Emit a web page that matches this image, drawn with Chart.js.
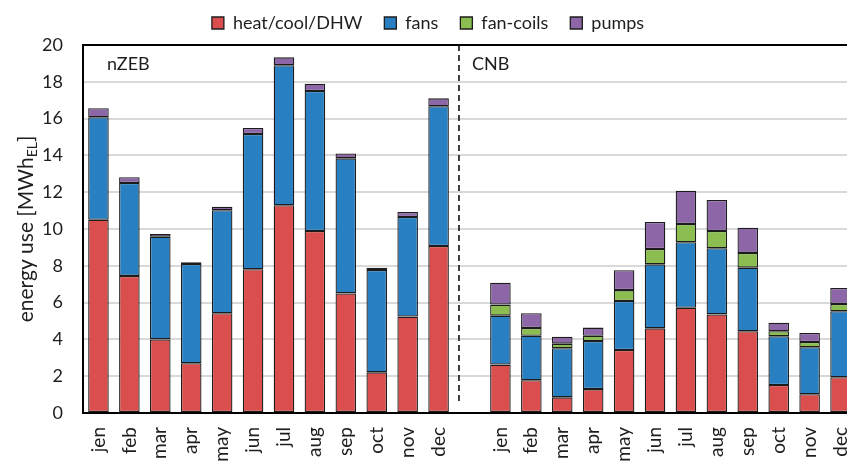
<!DOCTYPE html>
<html>
<head>
<meta charset="utf-8">
<script src="https://cdn.jsdelivr.net/npm/chart.js@4"></script>
<style>
  html, body { margin: 0; padding: 0; background: #fff; overflow: hidden; }
  #wrap { position: absolute; left: 0; top: 0; width: 856px; height: 462px; }
</style>
</head>
<body>
<div id="wrap"><canvas id="energyChart" width="856" height="462"></canvas></div>
<script>
// months for each building, with an empty slot between nZEB and CNB
const months = ['jen', 'feb', 'mar', 'apr', 'may', 'jun', 'jul', 'aug', 'sep', 'oct', 'nov', 'dec'];
const categories = [...months, '', ...months];

// nZEB values [MWh_EL]
const nzebHeat = [10.5, 7.45, 4.0, 2.7, 5.42, 7.81, 11.29, 9.89, 6.5, 2.21, 5.24, 9.08];
const nzebFans = [5.57, 5.05, 5.58, 5.4, 5.6, 7.35, 7.61, 7.61, 7.34, 5.56, 5.41, 7.59];
const nzebFanCoils = [0, 0, 0, 0, 0, 0, 0, 0, 0, 0, 0, 0];
const nzebPumps = [0.49, 0.31, 0.15, 0.09, 0.19, 0.33, 0.43, 0.4, 0.27, 0.13, 0.27, 0.43];

// CNB values [MWh_EL]
const cnbHeat = [2.63, 1.78, 0.85, 1.3, 3.42, 4.6, 5.72, 5.36, 4.44, 1.52, 1.02, 1.94];
const cnbFans = [2.66, 2.42, 2.67, 2.61, 2.67, 3.48, 3.56, 3.59, 3.46, 2.65, 2.55, 3.59];
const cnbFanCoils = [0.6, 0.42, 0.25, 0.29, 0.59, 0.83, 0.99, 0.94, 0.8, 0.27, 0.29, 0.39];
const cnbPumps = [1.19, 0.8, 0.38, 0.44, 1.08, 1.47, 1.81, 1.69, 1.37, 0.47, 0.49, 0.87];

const yTicks = [0, 2, 4, 6, 8, 10, 12, 14, 16, 18, 20];

const join = (a, b) => [...a, null, ...b];
const FONT = 'Lato, "Open Sans", sans-serif';
const TEXT = '#1e1e1e';

function ds(label, data, color) {
    return {
        label: label,
        data: data,
        backgroundColor: color,
        borderColor: '#1c1c1c',
        borderWidth: 1.3,
        borderSkipped: false,
        categoryPercentage: 1,
        barPercentage: 0.665
    };
}

// extra drawing: y-axis title with subscript, building labels, dashed divider
const extras = {
    id: 'extras',
    beforeLayout(chart) {
        // fixed legend strip height so the plot starts where the reference does
        const lg = chart.legend;
        if (lg && !lg._fixed) {
            const fit = lg.fit;
            lg.fit = function () { fit.call(this); this.height = 53; };
            lg._fixed = true;
        }
    },
    afterDraw(chart) {
        const ctx = chart.ctx;
        const area = chart.chartArea;
        const x = chart.scales.x;
        const y = chart.scales.y;
        ctx.save();

        // dashed separator between the two buildings
        const p11 = x.getPixelForValue(11);
        const p12 = x.getPixelForValue(12);
        const sepX = p11 + 0.66 * (p12 - p11);
        ctx.strokeStyle = '#111';
        ctx.lineWidth = 1.6;
        ctx.setLineDash([6, 4]);
        ctx.beginPath();
        ctx.moveTo(sepX, area.top);
        ctx.lineTo(sepX, y.getPixelForValue(0.6));
        ctx.stroke();
        ctx.setLineDash([]);

        // building names
        ctx.fillStyle = TEXT;
        ctx.font = '18px ' + FONT;
        ctx.textBaseline = 'middle';
        ctx.textAlign = 'left';
        ctx.fillText('nZEB', area.left + 24, area.top + 19);
        ctx.fillText('CNB', sepX + 13, area.top + 19);

        // y-axis title: energy use [MWh_EL]
        const main1 = 'energy use [MWh';
        const sub = 'EL';
        const main2 = ']';
        ctx.translate(33, (area.top + area.bottom) / 2);
        ctx.rotate(-Math.PI / 2);
        ctx.textBaseline = 'alphabetic';
        ctx.font = '21px ' + FONT;
        const w1 = ctx.measureText(main1).width;
        const w3 = ctx.measureText(main2).width;
        ctx.font = '14px ' + FONT;
        const w2 = ctx.measureText(sub).width;
        let cx = -(w1 + w2 + w3) / 2;
        ctx.font = '21px ' + FONT;
        ctx.fillText(main1, cx, 0);
        cx += w1;
        ctx.font = '14px ' + FONT;
        ctx.fillText(sub, cx, 4);
        cx += w2;
        ctx.font = '21px ' + FONT;
        ctx.fillText(main2, cx, 0);
        ctx.restore();
    }
};

const ctx = document.getElementById('energyChart').getContext('2d');
new Chart(ctx, {
    type: 'bar',
    data: {
        labels: categories,
        datasets: [
            ds('heat/cool/DHW', join(nzebHeat, cnbHeat), '#DA4F4D'),
            ds('fans', join(nzebFans, cnbFans), '#2880C3'),
            ds('fan-coils', join(nzebFanCoils, cnbFanCoils), '#8BBD51'),
            ds('pumps', join(nzebPumps, cnbPumps), '#8D66A8')
        ]
    },
    options: {
        responsive: false,
        animation: false,
        devicePixelRatio: 1,
        layout: { padding: { top: -8, left: 0, right: 0, bottom: 0 } },
        scales: {
            x: {
                stacked: true,
                grid: { display: false, drawTicks: false },
                border: { display: true, color: '#000', width: 2 },
                ticks: {
                    autoSkip: false,
                    minRotation: 90,
                    maxRotation: 90,
                    padding: 14,
                    color: TEXT,
                    font: { family: FONT, size: 19 }
                },
                afterFit(scale) {
                    // plot runs off the right edge, as in the reference
                    scale.height = 49;
                    scale.paddingLeft = 0;
                    scale.paddingRight = 0;
                }
            },
            y: {
                stacked: true,
                min: 0,
                max: 20,
                afterBuildTicks(scale) { scale.ticks = yTicks.map(v => ({ value: v })); },
                grid: {
                    drawTicks: false,
                    lineWidth: 2,
                    color: c => (c.tick && c.tick.value === 20) ? '#000' : '#d9d9d9'
                },
                border: { display: true, color: '#000', width: 2 },
                ticks: {
                    padding: 20,
                    color: TEXT,
                    font: { family: FONT, size: 18 }
                },
                afterFit(scale) { scale.width = 83; }
            }
        },
        plugins: {
            legend: {
                display: true,
                position: 'top',
                labels: {
                    boxWidth: 12,
                    boxHeight: 12,
                    padding: 22,
                    color: TEXT,
                    font: { family: FONT, size: 18 }
                }
            },
            tooltip: { enabled: false }
        }
    },
    plugins: [extras]
});
</script>
</body>
</html>
